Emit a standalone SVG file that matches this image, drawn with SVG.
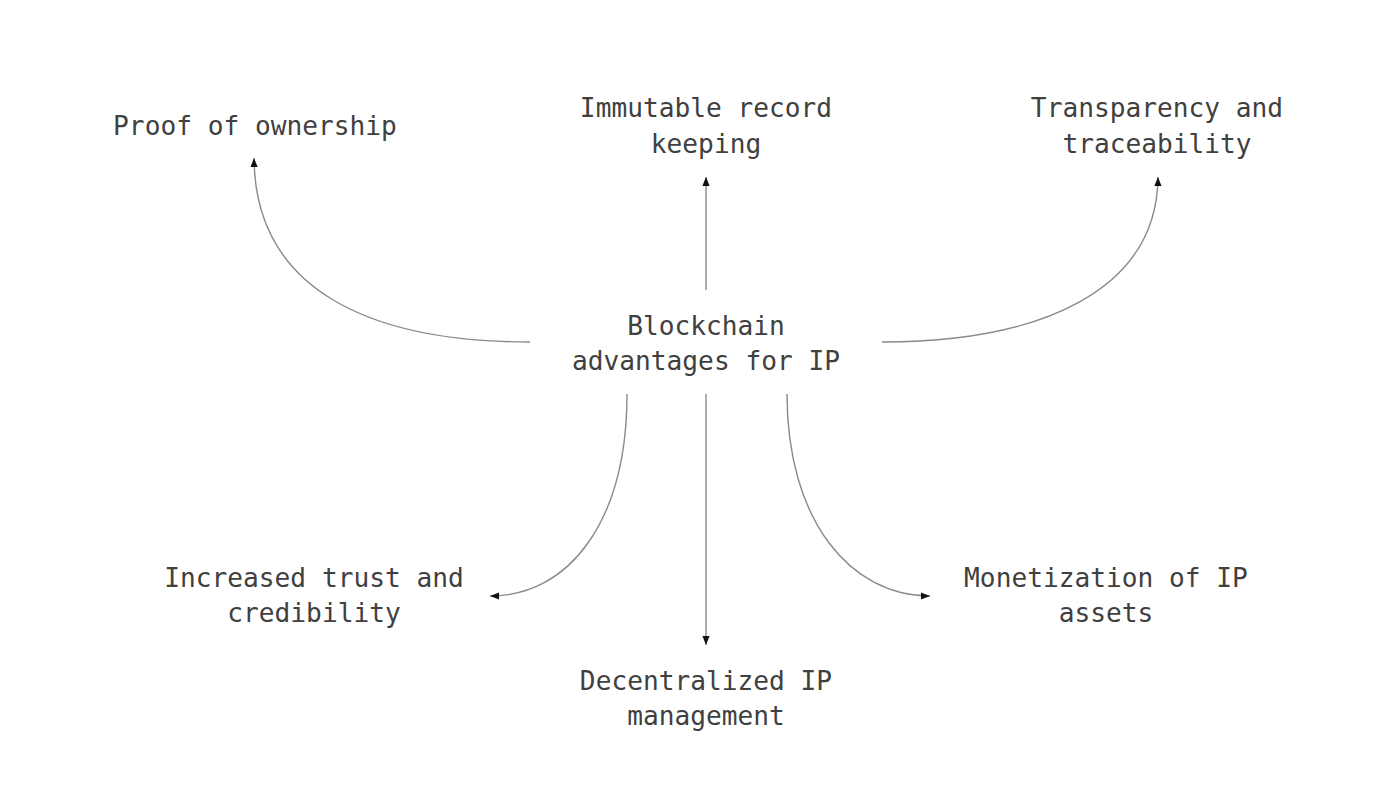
<svg xmlns="http://www.w3.org/2000/svg" width="1396" height="798" viewBox="0 0 1396 798">
<style>
text{font-family:"DejaVu Sans Mono","Liberation Mono",monospace;font-size:26.2px;fill:#404040;text-anchor:middle;dominant-baseline:central}
.c{fill:none;stroke:#8a8a8a;stroke-width:1.4}
</style>
<defs>
<marker id="ah" viewBox="0 0 10 10" refX="10" refY="5" markerWidth="9" markerHeight="9" markerUnits="userSpaceOnUse" orient="auto">
<path d="M0,1 L10,5 L0,9 z" fill="#111"/>
</marker>
</defs>
<rect width="1396" height="798" fill="#fff"/>
<g id="connectors">
<path class="c" d="M530,342 C370,342 255,290 254,158" marker-end="url(#ah)"/>
<path class="c" d="M706,290 L706,177" marker-end="url(#ah)"/>
<path class="c" d="M882,342 C1042,342 1157,290 1158,177" marker-end="url(#ah)"/>
<path class="c" d="M627,394 C627,520 570,596 490,596" marker-end="url(#ah)"/>
<path class="c" d="M706,394 L706,645" marker-end="url(#ah)"/>
<path class="c" d="M787,394 C787,520 850,596 930,596" marker-end="url(#ah)"/>
</g>
<g id="center"><text x="706" y="326">Blockchain</text><text x="706" y="361">advantages for IP</text></g>
<g id="proof"><text x="255" y="126">Proof of ownership</text></g>
<g id="immutable"><text x="706" y="108">Immutable record</text><text x="706" y="144">keeping</text></g>
<g id="transparency"><text x="1157" y="108">Transparency and</text><text x="1157" y="144">traceability</text></g>
<g id="trust"><text x="314" y="578">Increased trust and</text><text x="314" y="613">credibility</text></g>
<g id="decentralized"><text x="706" y="681">Decentralized IP</text><text x="706" y="716">management</text></g>
<g id="monetization"><text x="1106" y="578">Monetization of IP</text><text x="1106" y="613">assets</text></g>
</svg>
